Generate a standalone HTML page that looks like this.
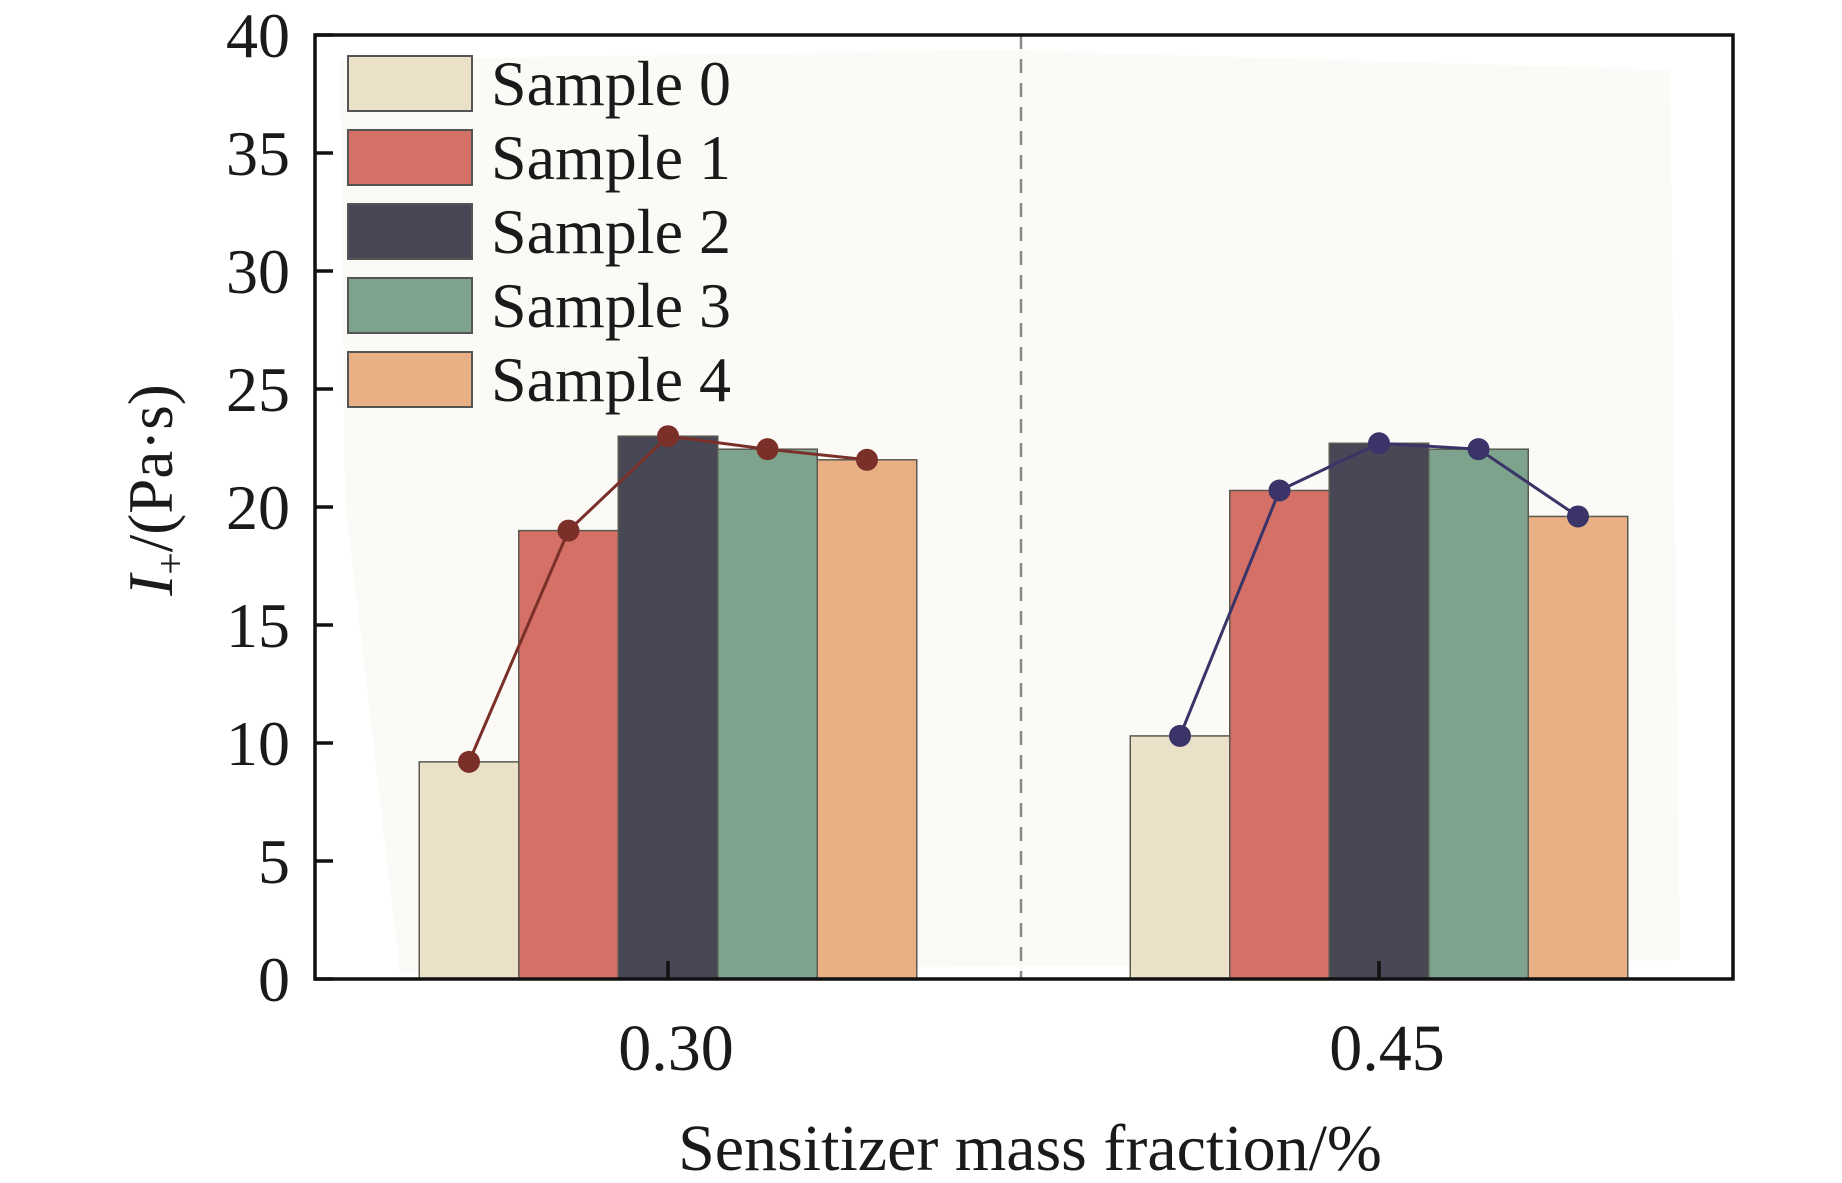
<!DOCTYPE html>
<html><head><meta charset="utf-8"><style>
html,body{margin:0;padding:0;background:#fff;}
svg{display:block;}
text{font-family:"Liberation Serif",serif;fill:#1a1a1a;}
</style></head><body>
<svg id="chart" width="1842" height="1183" viewBox="0 0 1842 1183">
<polygon points="340,60 1000,50 1670,70 1680,960 400,972 345,500" fill="#fbfaf7"/>
<g id="bars"></g>
<g id="lines"></g>
<line x1="1021" y1="35" x2="1021" y2="979" stroke="#888" stroke-width="2.5" stroke-dasharray="14,10"/>
<g id="axes"></g>
<g id="legend"></g>
<text x="1030" y="1170" font-size="66" text-anchor="middle">Sensitizer mass fraction/%</text>
<text transform="translate(172,490) rotate(-90)" font-size="63" text-anchor="middle"><tspan font-style="italic">I</tspan><tspan font-size="40" dy="12">+</tspan><tspan dy="-12">/(Pa·s)</tspan></text>
</svg>
<script>
const categories = ["0.30", "0.45"];
const seriesNames = ["Sample 0", "Sample 1", "Sample 2", "Sample 3", "Sample 4"];
const values030 = [9.2, 19.0, 23.0, 22.45, 22.0];
const values045 = [10.3, 20.7, 22.7, 22.45, 19.6];
const yTicks = [0, 5, 10, 15, 20, 25, 30, 35, 40];

const NS = "http://www.w3.org/2000/svg";
const colors = ["#ebe1c8", "#d47066", "#484755", "#7ea38d", "#e8b084"];
const lineColors = ["#7a3028", "#3a3468"];
const L = 315, R = 1733, T = 35, B = 979;
const yMax = 40;
const y = v => B - (v / yMax) * (B - T);
const groupCenters = [668, 1379];
const x = i => groupCenters[i];
const barW = 99.5;
function mk(tag, attrs, parent) {
  const e = document.createElementNS(NS, tag);
  for (const k in attrs) e.setAttribute(k, attrs[k]);
  parent.appendChild(e);
  return e;
}
const bars = document.getElementById("bars");
const lines = document.getElementById("lines");
const allValues = [values030, values045];
allValues.forEach((vals, gi) => {
  const cx = x(gi);
  const pts = [];
  vals.forEach((v, si) => {
    const bx = cx + (si - 2.5) * barW;
    const r = mk("rect", {x: bx, y: y(v), width: barW, height: B - y(v), fill: colors[si], stroke: "#5a5a50", "stroke-width": 1.5}, bars);
    
    
    pts.push([bx + barW / 2, y(v)]);
  });
  const pl = mk("polyline", {points: pts.map(p => p.join(",")).join(" "), fill: "none", stroke: lineColors[gi], "stroke-width": 3}, lines);
  
  
  pts.forEach((p, si) => {
    const c = mk("circle", {cx: p[0], cy: p[1], r: 11, fill: lineColors[gi]}, lines);
    
    
  });
});
const axes = document.getElementById("axes");
const frame = mk("rect", {x: L, y: T, width: R - L, height: B - T, fill: "none", stroke: "#111", "stroke-width": 3.5}, axes);


yTicks.forEach(t => {
  const tl = mk("line", {x1: L, x2: L + 18, y1: y(t), y2: y(t), stroke: "#111", "stroke-width": 3.5}, axes);
  
  
  const tx = mk("text", {x: 290, y: y(t) + 22, "font-size": 64, "text-anchor": "end"}, axes);
  tx.textContent = t;
  
  
});
categories.forEach((c, i) => {
  const tl = mk("line", {x1: x(i), x2: x(i), y1: B, y2: B - 18, stroke: "#111", "stroke-width": 3.5}, axes);
  
  
  const tx = mk("text", {x: x(i) + 8, y: 1070, "font-size": 66, "text-anchor": "middle"}, axes);
  tx.textContent = c;
  
  
});
const legend = document.getElementById("legend");
const rowY = [83, 157, 231, 305, 379];
seriesNames.forEach((n, i) => {
  const sw = mk("rect", {x: 348, y: rowY[i] - 27, width: 124, height: 55, fill: colors[i], stroke: "#555", "stroke-width": 2}, legend);
  
  
  const tx = mk("text", {x: 491, y: rowY[i] + 22, "font-size": 64}, legend);
  tx.textContent = n;
  
  
});
</script>
</body></html>
